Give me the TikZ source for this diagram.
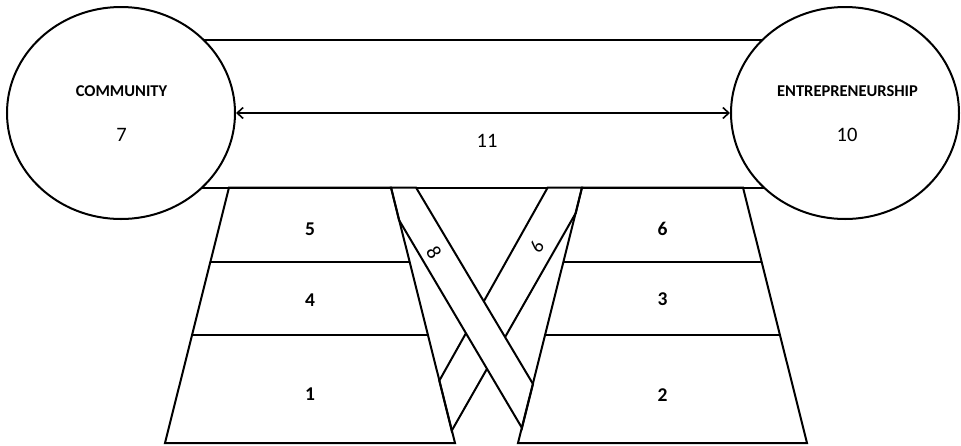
\documentclass[tikz,border=0pt]{standalone}
\usepackage{fontspec}
\setmainfont{Carlito}
\usetikzlibrary{arrows.meta,calc,shapes.geometric}

\tikzset{
  hub/.style={ellipse,draw,fill=white,minimum width=228pt,minimum height=212pt,inner sep=0pt},
  hubname/.style={font=\fontsize{16.5}{18}\selectfont\bfseries},
  hubnum/.style={font=\fontsize{20.5}{22}\selectfont},
  layer/.style={font=\fontsize{19.5}{21}\selectfont\bfseries},
  band/.style={draw,fill=white,line join=miter},
  barb/.tip={Straight Barb[length=6pt,width=11pt]}
}

\begin{document}
\begin{tikzpicture}[x=1pt,y=-1pt,line width=2pt]
  \useasboundingbox (0,0) rectangle (961,445);

  % link between the two circles
  \draw (121,40) rectangle (845,187.5);
  \node[hub] (comm) at (121,113) {};
  \node[hub] (entr) at (845,113) {};
  \node[hubname] (commname) at (121.5,91) {COMMUNITY};
  \node[hubnum] (commnum) at (121.5,135) {7};
  \node[hubname] (entrname) at (847.5,91) {ENTREPRENEURSHIP};
  \node[hubnum] (entrnum) at (847,135) {10};
  \draw[barb-barb,line width=1.6pt] (comm.east) -- (entr.west);
  \node[hubnum] (n11) at (487,141) {11};

  % crossing bands (8 lies on top of 9)
  \draw[band] (547.7,187.5) -- (582,187.5) -- (575.8,213) -- (451.7,430.7) -- (439.3,380.7) -- cycle;
  \draw[band] (391,187.5) -- (416,187.5) -- (533,384) -- (522,428) -- (399,220) -- cycle;
  \node[hubnum,rotate=-60] (n8) at (434,253) {8};
  \node[hubnum,rotate=-120] (n9) at (537,246.5) {9};

  % left stack
  \coordinate (L1) at (229,187.5);
  \coordinate (L2) at (391,187.5);
  \coordinate (L3) at (455,443);
  \coordinate (L4) at (165,443);
  \draw (L1) -- (L2) -- (L3) -- (L4) -- cycle;
  \draw ($(L1)!0.29!(L4)$) -- ($(L2)!0.29!(L3)$);
  \draw ($(L1)!0.576!(L4)$) -- ($(L2)!0.576!(L3)$);
  \node[layer] (n5) at (310,229) {5};
  \node[layer] (n4) at (310,300) {4};
  \node[layer] (n1) at (310,394) {1};

  % right stack
  \coordinate (R1) at (582,187.5);
  \coordinate (R2) at (743,187.5);
  \coordinate (R3) at (807,443);
  \coordinate (R4) at (518,443);
  \draw (R1) -- (R2) -- (R3) -- (R4) -- cycle;
  \draw ($(R1)!0.29!(R4)$) -- ($(R2)!0.29!(R3)$);
  \draw ($(R1)!0.576!(R4)$) -- ($(R2)!0.576!(R3)$);
  \node[layer] (n6) at (662.5,229) {6};
  \node[layer] (n3) at (662.5,299) {3};
  \node[layer] (n2) at (662.5,395) {2};
\end{tikzpicture}
\end{document}
